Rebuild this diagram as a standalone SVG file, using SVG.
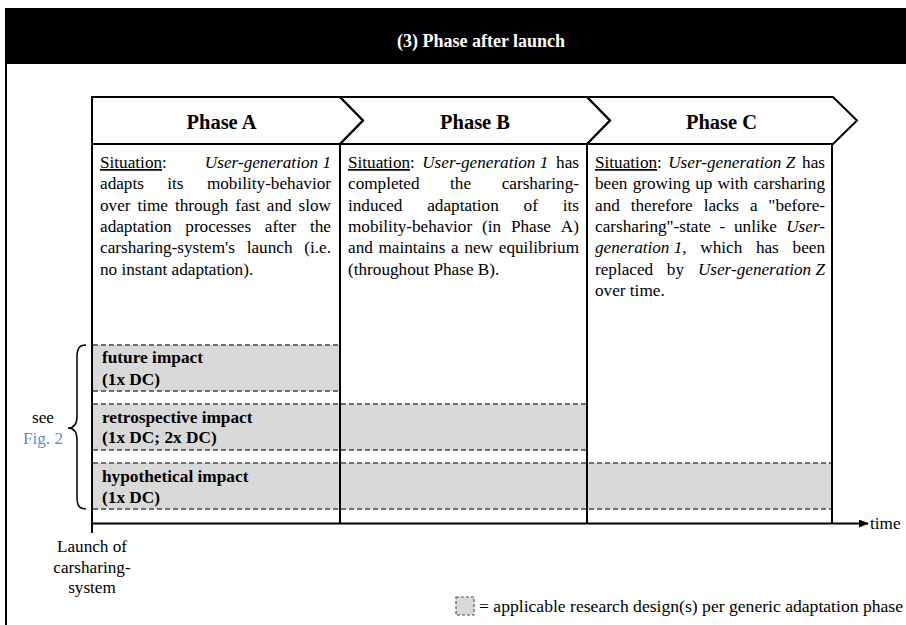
<svg xmlns="http://www.w3.org/2000/svg" width="906" height="625" viewBox="0 0 906 625">
<defs>
<style>
.t{font-family:"Liberation Serif","Times New Roman",serif;font-size:17.2px;fill:#000}
.i{font-style:italic}
.hd{font-family:"Liberation Serif","Times New Roman",serif;font-size:20.5px;font-weight:bold;text-anchor:middle}
.b{font-family:"Liberation Serif","Times New Roman",serif;font-size:17.3px;font-weight:bold}
.ln{stroke:#000;stroke-width:2;fill:none}
.dash{stroke:#444;stroke-width:1.4;stroke-dasharray:5 3;fill:none}
.band{fill:#d9d9d9}
.e{text-anchor:end}
</style>
<marker id="arr" markerWidth="10" markerHeight="8" refX="9" refY="4" orient="auto" markerUnits="userSpaceOnUse">
<path d="M0,0 L10,4 L0,8 Z" fill="#000"/>
</marker>
</defs>
<rect width="906" height="625" fill="#fff"/>
<g id="frame">
<rect x="6" y="8" width="900" height="56" fill="#000"/>
<line x1="6" y1="8" x2="6" y2="625" class="ln"/>
<text x="481" y="47" font-family="'Liberation Serif','Times New Roman',serif" font-size="18" font-weight="bold" fill="#fff" text-anchor="middle">(3) Phase after launch</text>
</g>
<g id="bands">
<rect class="band" x="93" y="345" width="246" height="46"/>
<rect class="band" x="93" y="404" width="493" height="46"/>
<rect class="band" x="93" y="463" width="738" height="46"/>
<path class="dash" d="M93,345 H339 M93,391 H339 M93,404 H586 M93,450 H586 M93,463 H831 M93,509 H831"/>
</g>
<g id="phase-a">
<path class="ln" d="M92,97 H340 L363,120.5 L340,144 H92 Z"/>
<path class="ln" d="M92,144 V533 M340,144 V523"/>
<text class="hd" x="221.5" y="129">Phase A</text>
<text class="t" y="168"><tspan x="100"><tspan text-decoration="underline">Situation</tspan>:</tspan><tspan class="i e" x="331" text-anchor="end">User-generation 1</tspan></text>
<text class="t" y="189.3"><tspan x="100">adapts</tspan><tspan x="167.2">its</tspan><tspan x="331" text-anchor="end">mobility-behavior</tspan></text>
<text class="t" y="210.6"><tspan x="100">over</tspan><tspan x="137.4">time</tspan><tspan x="174.9">through</tspan><tspan x="235.2">fast</tspan><tspan x="266.8">and</tspan><tspan x="331" text-anchor="end">slow</tspan></text>
<text class="t" y="232"><tspan x="100">adaptation</tspan><tspan x="185.3">processes</tspan><tspan x="264.8">after</tspan><tspan x="331" text-anchor="end">the</tspan></text>
<text class="t" y="253.3"><tspan x="100">carsharing-system's</tspan><tspan x="246.7">launch</tspan><tspan x="331" text-anchor="end">(i.e.</tspan></text>
<text class="t" x="100" y="274.6">no instant adaptation).</text>
</g>
<g id="phase-b">
<path class="ln" d="M340,97 H587 L610,120.5 L587,144 H340 L363,120.5 Z"/>
<path class="ln" d="M587,144 V523"/>
<text class="hd" x="475" y="129">Phase B</text>
<text class="t" y="168"><tspan x="348"><tspan text-decoration="underline">Situation</tspan>:</tspan><tspan class="i" x="422.2">User-generation 1</tspan><tspan x="579" text-anchor="end">has</tspan></text>
<text class="t" y="189.3"><tspan x="348">completed</tspan><tspan x="450.1">the</tspan><tspan x="579" text-anchor="end">carsharing-</tspan></text>
<text class="t" y="210.6"><tspan x="348">induced</tspan><tspan x="427.2">adaptation</tspan><tspan x="523.6">of</tspan><tspan x="579" text-anchor="end">its</tspan></text>
<text class="t" y="232"><tspan x="348">mobility-behavior</tspan><tspan x="482">(in</tspan><tspan x="510.9">Phase</tspan><tspan x="579" text-anchor="end">A)</tspan></text>
<text class="t" y="253.3"><tspan x="348">and</tspan><tspan x="378.5">maintains</tspan><tspan x="451.1">a</tspan><tspan x="464.4">new</tspan><tspan x="579" text-anchor="end">equilibrium</tspan></text>
<text class="t" x="348" y="274.6">(throughout Phase B).</text>
</g>
<g id="phase-c">
<path class="ln" d="M587,97 H833 L857,120.5 L833,144 H587 L610,120.5 Z"/>
<path class="ln" d="M832,144 V523"/>
<text class="hd" x="721.5" y="129">Phase C</text>
<text class="t" y="168"><tspan x="595"><tspan text-decoration="underline">Situation</tspan>:</tspan><tspan class="i" x="668.2">User-generation Z</tspan><tspan x="825" text-anchor="end">has</tspan></text>
<text class="t" y="189.3"><tspan x="595">been</tspan><tspan x="632.7">growing</tspan><tspan x="695.2">up</tspan><tspan x="717.6">with</tspan><tspan x="825" text-anchor="end">carsharing</tspan></text>
<text class="t" y="210.6"><tspan x="595">and</tspan><tspan x="630.7">therefore</tspan><tspan x="703.7">lacks</tspan><tspan x="749.9">a</tspan><tspan x="825" text-anchor="end">"before-</tspan></text>
<text class="t" y="232"><tspan x="595">carsharing"-state</tspan><tspan x="719.6">-</tspan><tspan x="734">unlike</tspan><tspan class="i" x="825" text-anchor="end">User-</tspan></text>
<text class="t" y="253.3"><tspan x="595" class="i">generation 1</tspan><tspan>,</tspan><tspan x="700.3">which</tspan><tspan x="755.9">has</tspan><tspan x="825" text-anchor="end">been</tspan></text>
<text class="t" y="274.6"><tspan x="595">replaced</tspan><tspan x="666.8">by</tspan><tspan class="i" x="825" text-anchor="end">User-generation Z</tspan></text>
<text class="t" x="595" y="296">over time.</text>
</g>
<g id="impact-labels">
<text class="b" x="102" y="363">future impact</text>
<text class="b" x="102" y="385">(1x DC)</text>
<text class="b" x="102" y="423">retrospective impact</text>
<text class="b" x="102" y="443">(1x DC; 2x DC)</text>
<text class="b" x="102" y="482">hypothetical impact</text>
<text class="b" x="102" y="503">(1x DC)</text>
</g>
<g id="see-fig">
<text class="t" x="43" y="423" text-anchor="middle" fill="#222">see</text>
<text class="t" x="43" y="444" text-anchor="middle" style="fill:#5b8fc9">Fig. 2</text>
</g>
<g id="launch-label">
<text class="t" text-anchor="middle" font-size="17.5"><tspan x="92" y="552">Launch of</tspan><tspan x="92" y="573">carsharing-</tspan><tspan x="92" y="593">system</tspan></text>
</g>
<g id="legend">
<rect x="456" y="597" width="18" height="18" fill="#d9d9d9" stroke="#555" stroke-width="1.2" stroke-dasharray="3 2"/>
<text class="t" x="479" y="612" textLength="424" lengthAdjust="spacingAndGlyphs">= applicable research design(s) per generic adaptation phase</text>
</g>
<g id="connectors">
<line class="ln" x1="92" y1="523.5" x2="868" y2="523.5" marker-end="url(#arr)"/>
<text class="t" x="870" y="529">time</text>
<path d="M86,345 C79,345 77,349 77,357 L77,416 C77,424 74,428 68,428 C74,428 77,432 77,440 L77,497 C77,505 79,509 86,509" fill="none" stroke="#000" stroke-width="1.5"/>
</g>
</svg>
